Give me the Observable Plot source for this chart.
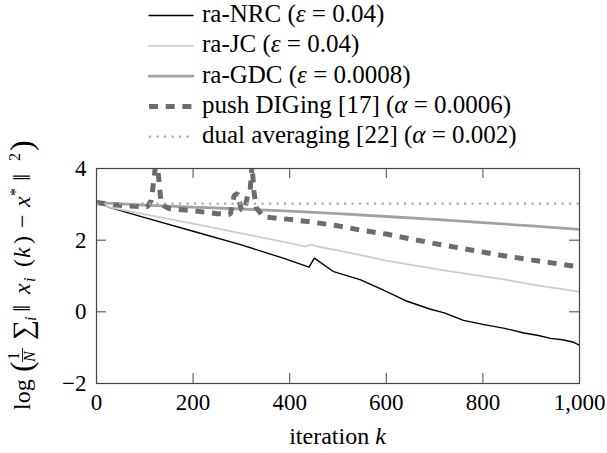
<!DOCTYPE html>
<html>
<head>
<meta charset="utf-8">
<script src="https://cdn.jsdelivr.net/npm/d3@7"></script>
<script src="https://cdn.jsdelivr.net/npm/@observablehq/plot@0.6"></script>
<style>
  html, body { margin: 0; padding: 0; background: #fff; }
  #chart { width: 607px; height: 453px; }
  #chart svg, #chart svg text, #chart svg tspan { font-family: "Liberation Serif", "Times New Roman", serif; }
</style>
</head>
<body>
<div id="chart"></div>
<script>
// ---- data ----
const nrcK = [0, 30, 100, 200, 300, 388, 440, 451, 491, 547, 592, 640, 690, 720, 760, 800, 845, 885, 915, 940, 965, 988, 1000];
const nrcV = [3.05, 2.90, 2.63, 2.25, 1.87, 1.49, 1.25, 1.50, 1.12, 0.89, 0.62, 0.31, 0.08, -0.03, -0.24, -0.35, -0.46, -0.59, -0.66, -0.74, -0.78, -0.85, -0.93];

const jcK = [0, 30, 100, 200, 300, 400, 433, 443, 455, 520, 600, 700, 780, 850, 905, 950, 1000];
const jcV = [3.05, 2.91, 2.72, 2.46, 2.19, 1.92, 1.82, 1.88, 1.83, 1.66, 1.43, 1.20, 1.03, 0.89, 0.75, 0.66, 0.56];

const gdcK = [0, 100, 200, 300, 400, 500, 600, 700, 800, 900, 1000];
const gdcV = [3.05, 2.98, 2.92, 2.87, 2.81, 2.74, 2.66, 2.58, 2.49, 2.40, 2.30];

const pdK = [0, 35, 70, 105, 113, 119, 124, 129, 134, 150, 200, 250, 277, 285, 292, 300, 306, 313, 318, 322, 326, 331, 346, 360, 400, 443, 500, 547, 600, 698, 800, 836, 900, 1000];
const pdV = [3.05, 2.99, 2.95, 2.93, 3.10, 3.70, 4.30, 3.70, 3.00, 2.88, 2.82, 2.74, 2.72, 3.25, 3.30, 2.85, 2.82, 3.25, 3.35, 4.10, 3.35, 2.90, 2.65, 2.63, 2.58, 2.51, 2.40, 2.28, 2.17, 1.91, 1.67, 1.58, 1.45, 1.25];

const daK = [0, 250, 500, 750, 1000];
const daV = [3.02, 3.02, 3.02, 3.02, 3.02];

const seriesNames = ["ra-NRC", "ra-JC", "ra-GDC", "push DIGing [17]", "dual averaging [22]"];
const paramSymbols = ["ε", "ε", "ε", "α", "α"];
const paramValues = ["0.04", "0.04", "0.0008", "0.0006", "0.002"];

const xTicks = [0, 200, 400, 600, 800, 1000];
const yTicks = [-2, 0, 2, 4];
const xDomain = [0, 1000];
const yDomain = [-2, 4];

// ---- styles ----
const styles = [
  {stroke: "#000000", strokeWidth: 1.4, strokeDasharray: null, strokeLinecap: "round"},
  {stroke: "#cdcdcd", strokeWidth: 1.8, strokeDasharray: null, strokeLinecap: "round"},
  {stroke: "#a2a2a2", strokeWidth: 2.8, strokeDasharray: null, strokeLinecap: "round"},
  {stroke: "#6c6c6c", strokeWidth: 5, strokeDasharray: "9,7.7", strokeLinecap: "butt"},
  {stroke: "#aaaaaa", strokeWidth: 2.2, strokeDasharray: "2.2,5.3", strokeLinecap: "butt"}
];
const seriesData = [[nrcK, nrcV], [jcK, jcV], [gdcK, gdcV], [pdK, pdV], [daK, daV]]
  .map(([ks, vs]) => ks.map((k, i) => ({k, v: vs[i]})));

const W = 607, H = 453, mT = 168, mB = 70, mL = 96, mR = 28;
const innerW = W - mL - mR, innerH = H - mT - mB;
const tickLen = 10;
const fmtY = d => d < 0 ? "\u2212" + Math.abs(d) : String(d);
const FONT = "Liberation Serif, Times New Roman, serif";

const lineMarks = seriesData.map((data, i) => Plot.line(data, {
  x: "k", y: "v", clip: true,
  stroke: styles[i].stroke, strokeWidth: styles[i].strokeWidth,
  strokeDasharray: styles[i].strokeDasharray, strokeLinecap: styles[i].strokeLinecap,
  strokeLinejoin: "miter"
}));

const frameStroke = "#444";
const plot = Plot.plot({
  width: W, height: H,
  marginTop: mT, marginBottom: mB, marginLeft: mL, marginRight: mR,
  x: {domain: xDomain},
  y: {domain: yDomain},
  style: {fontFamily: FONT, fontSize: "23px", background: "#fff", color: "#000"},
  marks: [
    ...lineMarks,
    Plot.ruleX(xTicks, {x: d => d, insetTop: innerH - tickLen, stroke: frameStroke, strokeWidth: 1}),
    Plot.ruleX(xTicks, {x: d => d, insetBottom: innerH - tickLen, stroke: frameStroke, strokeWidth: 1}),
    Plot.ruleY(yTicks, {y: d => d, insetRight: innerW - tickLen, stroke: frameStroke, strokeWidth: 1}),
    Plot.ruleY(yTicks, {y: d => d, insetLeft: innerW - tickLen, stroke: frameStroke, strokeWidth: 1}),
    Plot.frame({stroke: frameStroke, strokeWidth: 1.2}),
    Plot.axisX(xTicks, {tickSize: 0, tickPadding: 10, tickFormat: d3.format(","), label: null, fontFamily: FONT, fontSize: 23}),
    Plot.axisY(yTicks, {tickSize: 0, tickPadding: 10, tickFormat: fmtY, label: null, fontFamily: FONT, fontSize: 23})
  ]
});
document.getElementById("chart").appendChild(plot);

const svg = d3.select(plot);

// ---- legend ----
const legX1 = 149, legX2 = 193, legTextX = 202, legY0 = 15.5, legStep = 30.3;
const leg = svg.append("g").style("font-family", FONT).style("font-size", "25px").attr("text-anchor", "start");
seriesNames.forEach((name, i) => {
  const y = legY0 + i * legStep;
  const s = styles[i];
  leg.append("line").attr("x1", legX1).attr("x2", legX2).attr("y1", y).attr("y2", y)
    .attr("stroke", s.stroke).attr("stroke-width", s.strokeWidth)
    .attr("stroke-dasharray", s.strokeDasharray).attr("stroke-linecap", s.strokeLinecap);
  const t = leg.append("text").attr("x", legTextX).attr("y", y + 6.5).attr("fill", "#000")
    .style("font-family", FONT).style("font-size", "25px");
  t.append("tspan").text(name + " (");
  t.append("tspan").attr("font-style", "italic").text(paramSymbols[i]);
  t.append("tspan").text(" = " + paramValues[i] + ")");
});

// ---- x label ----
const xl = svg.append("text").attr("x", mL + innerW / 2).attr("y", 444)
  .attr("text-anchor", "middle").style("font-family", FONT).style("font-size", "24px").attr("fill", "#000");
xl.append("tspan").text("iteration ");
xl.append("tspan").attr("font-style", "italic").text("k");

// ---- y label (rotated; pieces laid out along the text direction) ----
const yl = svg.append("g").attr("transform", "translate(30,410) rotate(-90)")
  .style("font-family", FONT).attr("fill", "#000").attr("text-anchor", "start");
const piece = (txt, x, y = 0, size = 24, italic = false) => {
  const t = yl.append("text").attr("x", x).attr("y", y).text(txt)
    .style("font-family", FONT).style("font-size", size + "px");
  if (italic) t.style("font-style", "italic");
  return t;
};
piece("log", 0);
piece("(", 38, 2, 32);
piece("1", 50, -11, 16);
yl.append("line").attr("x1", 48).attr("x2", 62).attr("y1", -7.5).attr("y2", -7.5).attr("stroke", "#000").attr("stroke-width", 0.9);
piece("N", 48, 5, 16, true);
piece("\u2211", 70, 2, 28);
piece("i", 89, 6, 16, true);
piece("\u2016", 98, 0, 26);
piece("x", 116, 0, 24, true);
piece("i", 128, 5, 16, true);
piece("(", 143);
piece("k", 152, 0, 24, true);
piece(")", 166);
piece("\u2212", 182);
piece("x", 203, 0, 24, true);
piece("*", 214, -9, 16);
piece("\u2016", 229, 0, 26);
piece("2", 249, -10, 16);
piece(")", 259, 2, 32);
</script>
</body>
</html>
